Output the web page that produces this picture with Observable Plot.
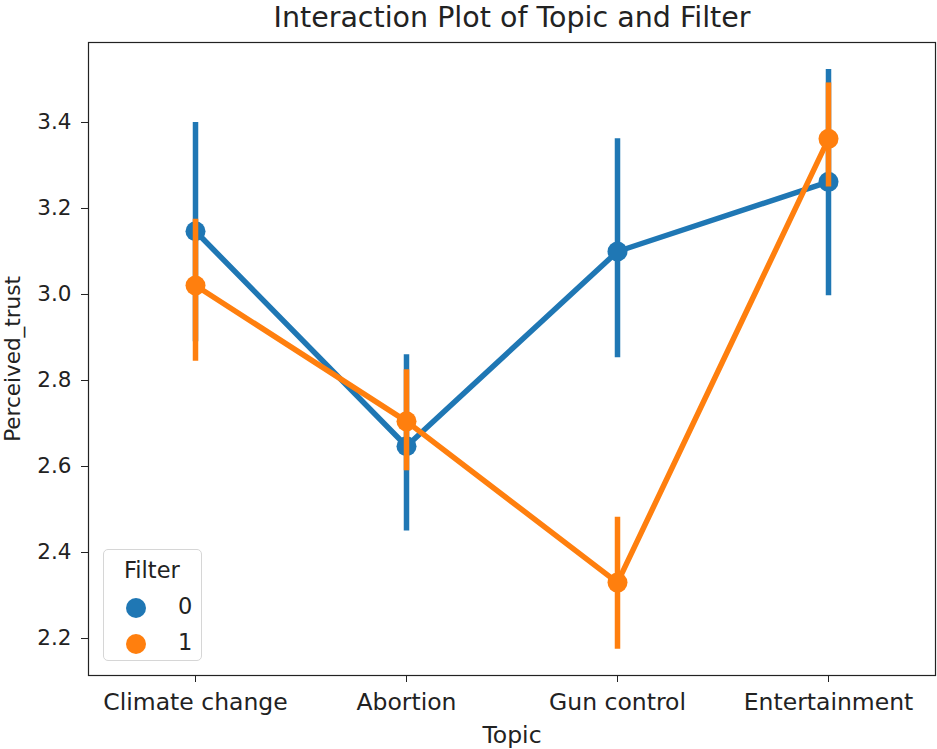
<!DOCTYPE html>
<html>
<head>
<meta charset="utf-8">
<script src="https://cdn.jsdelivr.net/npm/d3@7"></script>
<script src="https://cdn.jsdelivr.net/npm/@observablehq/plot@0.6"></script>
<style>
  body { margin: 0; background: #fff; }
  #wrap { position: relative; width: 937px; height: 749px; font-family: "DejaVu Sans", sans-serif; }
  #legend { position: absolute; left: 103px; top: 549px; width: 99px; height: 112px; box-sizing: border-box;
    border: 1px solid #d6d6d6; border-radius: 5px; background: rgba(255,255,255,0.8); color: #222; font-size: 22.5px; }
  #legend .title { position: absolute; left: 20px; top: 7px; }
  #legend .row { position: absolute; left: 0; width: 100%; height: 26px; }
  #legend .dot { position: absolute; left: 22px; top: 3px; width: 20px; height: 20px; border-radius: 50%; }
  #legend .lab { position: absolute; left: 74px; top: -2px; }
</style>
</head>
<body>
<div id="wrap"></div>
<script>
const topics = ["Climate change", "Abortion", "Gun control", "Entertainment"];
const filters = ["0", "1"];
const colors = ["#1f77b4", "#ff7f0e"];
const mean0 = [3.147, 2.647, 3.100, 3.262];
const low0  = [2.89, 2.450, 2.853, 2.997];
const high0 = [3.400, 2.860, 3.362, 3.523];
const mean1 = [3.021, 2.705, 2.330, 3.362];
const low1  = [2.845, 2.590, 2.175, 3.250];
const high1 = [3.175, 2.825, 2.482, 3.492];
const yTicks = [2.2, 2.4, 2.6, 2.8, 3.0, 3.2, 3.4];

const rows = [];
[[mean0, low0, high0], [mean1, low1, high1]].forEach(([m, l, h], fi) => {
  topics.forEach((t, i) => rows.push({topic: t, filter: filters[fi], mean: m[i], low: l[i], high: h[i]}));
});

const font = "DejaVu Sans, sans-serif";
const marks = [];
filters.forEach(f => {
  const d = rows.filter(r => r.filter === f);
  marks.push(Plot.ruleX(d, {x: "topic", y1: "low", y2: "high", stroke: "filter", strokeWidth: 5.5}));
  marks.push(Plot.line(d, {x: "topic", y: "mean", stroke: "filter", strokeWidth: 5.5}));
  marks.push(Plot.dot(d, {x: "topic", y: "mean", fill: "filter", r: 10, stroke: "none"}));
});

const chart = Plot.plot({
  width: 937,
  height: 749,
  marginLeft: 88,
  marginRight: 2,
  marginTop: 42,
  marginBottom: 74,
  style: {fontFamily: font, fontSize: "22px", color: "#222", background: "#fff"},
  x: {type: "point", domain: topics, padding: 0.5, label: null},
  y: {domain: [2.114, 3.586], label: null},
  color: {domain: filters, range: colors},
  marks: [
    Plot.frame({stroke: "#222", strokeWidth: 1.2}),
    Plot.axisX({ticks: topics, tickSize: 7, tickPadding: 11, fontSize: 23.5, label: "Topic", labelAnchor: "center", labelOffset: 67, labelArrow: "none"}),
    Plot.axisY({ticks: yTicks, tickFormat: d3.format(".1f"), tickSize: 7, tickPadding: 10, fontSize: 21.5, label: "Perceived_trust", labelAnchor: "center", labelOffset: 84, labelArrow: "none"}),
    ...marks,
    Plot.text(["Interaction Plot of Topic and Filter"], {frameAnchor: "top", lineAnchor: "middle", dy: -24.5, fontSize: 28.5, fill: "#222"})
  ]
});

const wrap = document.getElementById("wrap");
wrap.appendChild(chart);

const legend = document.createElement("div");
legend.id = "legend";
let html = '<div class="title">Filter</div>';
filters.forEach((f, i) => {
  html += `<div class="row" style="top:${45 + i * 36}px"><div class="dot" style="background:${colors[i]}"></div><div class="lab">${f}</div></div>`;
});
legend.innerHTML = html;
wrap.appendChild(legend);
</script>
</body>
</html>
